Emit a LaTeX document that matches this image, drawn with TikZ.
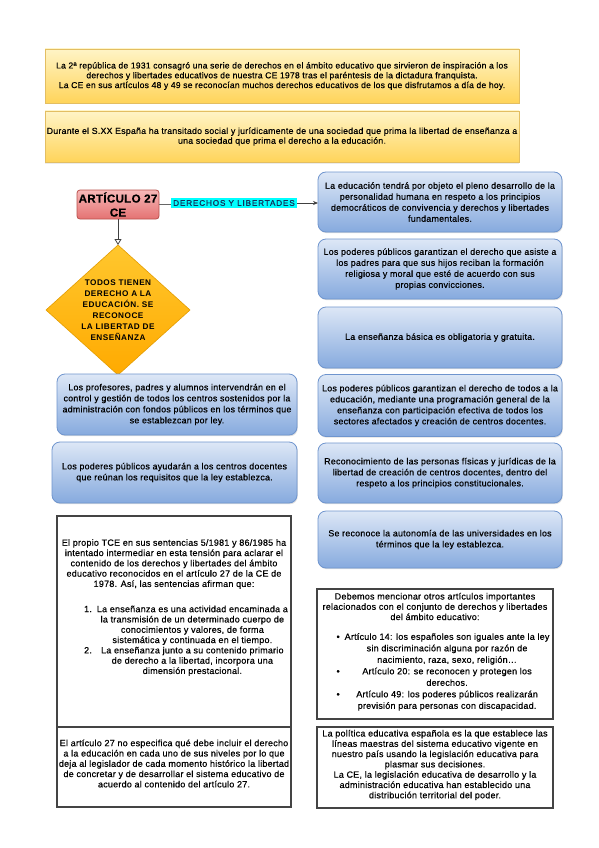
\documentclass[tikz,border=0pt]{standalone}
\usepackage{fontspec}
\setmainfont{Liberation Sans}[LetterSpace=2.5, RawFeature={embolden=0.5}]
\newfontfamily\spacedfont[LetterSpace=6.0]{Liberation Sans}
\newfontfamily\labfont[LetterSpace=10.0, RawFeature={embolden=0.6}]{Liberation Sans}
\usetikzlibrary{shapes.geometric,arrows.meta,shadows}
\definecolor{yeltop}{HTML}{FFF4C6}
\definecolor{yelbot}{HTML}{FFD45A}
\definecolor{yelline}{HTML}{E3BE62}
\definecolor{blutop}{HTML}{DDE7F6}
\definecolor{blubot}{HTML}{86AADE}
\definecolor{bluline}{HTML}{6F95CE}
\definecolor{pinktop}{HTML}{F7B8B8}
\definecolor{pinkbot}{HTML}{E47272}
\definecolor{pinkline}{HTML}{B9504C}
\definecolor{diatop}{HTML}{FFC72E}
\definecolor{diabot}{HTML}{FFAA00}
\definecolor{dialine}{HTML}{E39C00}
\definecolor{labcyan}{HTML}{00FFFF}
\definecolor{labtext}{HTML}{12305A}
\definecolor{txt}{HTML}{000000}
\definecolor{wline}{HTML}{444444}
\newcommand{\fyel}{\fontsize{8.6}{9.8}\selectfont}
\newcommand{\fblu}{\fontsize{8.9}{11}\selectfont}
\newcommand{\fwht}{\fontsize{9.0}{10.3}\selectfont}
\begin{document}
\begin{tikzpicture}[x=1pt,y=-1pt,
  every node/.style={inner sep=0pt, outer sep=0pt, text=txt},
  yelbox/.style={draw=yelline, line width=0.6pt, top color=yeltop, bottom color=yelbot,
    drop shadow={shadow xshift=0pt, shadow yshift=-1.5pt, opacity=0.15}, align=center, font=\fyel},
  blubox/.style={draw=bluline, line width=0.8pt, top color=blutop, bottom color=blubot,
    rounded corners=8pt, drop shadow={shadow xshift=0.8pt, shadow yshift=-1.2pt, opacity=0.25},
    align=center, font=\fblu},
  artbox/.style={draw=pinkline, line width=0.8pt, top color=pinktop, bottom color=pinkbot,
    rounded corners=3pt, align=center, font=\fontsize{11.6}{14}\selectfont\bfseries},
  labbox/.style={fill=labcyan, text=labtext, font=\labfont\fontsize{8.2}{9}\selectfont},
  diabox/.style={diamond, draw=dialine, line width=0.6pt, top color=diatop, bottom color=diabot},
  diatext/.style={align=center, font=\spacedfont\bfseries\fontsize{8.2}{11}\selectfont},
  whtbox/.style={draw=wline, line width=1.1pt, fill=white},
  whttext/.style={align=center, font=\fwht},
  conn/.style={draw=black!75, line width=0.8pt}
]
\useasboundingbox (0,0) rectangle (599,848);
\fill[white] (0,0) rectangle (599,848);

% yellow boxes
\node[yelbox, minimum width=474pt, minimum height=54pt] (y1) at (282,76)
 {La 2ª república de 1931 consagró una serie de derechos en el ámbito educativo que sirvieron de inspiración a los\\
  derechos y libertades educativos de nuestra CE 1978 tras el paréntesis de la dictadura franquista.\\
  La CE en sus artículos 48 y 49 se reconocían muchos derechos educativos de los que disfrutamos a día de hoy.};
\node[yelbox, minimum width=474pt, minimum height=51pt, font=\fontsize{8.8}{9.8}\selectfont] (y2) at (282,136.5)
 {Durante el S.XX España ha transitado social y jurídicamente de una sociedad que prima la libertad de enseñanza a\\
  una sociedad que prima el derecho a la educación.};

% article, label, diamond
\node[artbox, minimum width=82pt, minimum height=29pt] (art) at (118,204.5) {ARTÍCULO 27\\CE};
\node[labbox, minimum width=126pt, minimum height=10pt] (lab) at (234,203) {DERECHOS Y LIBERTADES};
\node[diabox, minimum width=144pt, minimum height=130pt] (dia) at (118,310) {};
\node[diatext] (diat) at (dia.center) {TODOS TIENEN\\DERECHO A LA\\EDUCACIÓN. SE\\RECONOCE\\LA LIBERTAD DE\\ENSEÑANZA};

% right blue column
\node[blubox, minimum width=244pt, minimum height=60pt] (b1) at (440,202)
 {La educación tendrá por objeto el pleno desarrollo de la\\ personalidad humana en respeto a los principios\\ democráticos de convivencia y derechos y libertades\\ fundamentales.};
\node[blubox, minimum width=244pt, minimum height=60pt] (b2) at (440,269)
 {Los poderes públicos garantizan el derecho que asiste a\\ los padres para que sus hijos reciban la formación\\ religiosa y moral que esté de acuerdo con sus\\ propias convicciones.};
\node[blubox, minimum width=244pt, minimum height=61pt] (b3) at (440,337.5)
 {La enseñanza básica es obligatoria y gratuita.};
\node[blubox, minimum width=244pt, minimum height=62pt] (b4) at (440,405.5)
 {Los poderes públicos garantizan el derecho de todos a la\\ educación, mediante una programación general de la\\ enseñanza con participación efectiva de todos los\\ sectores afectados y creación de centros docentes.};
\node[blubox, minimum width=244pt, minimum height=60pt] (b5) at (440,473)
 {Reconocimiento de las personas físicas y jurídicas de la\\ libertad de creación de centros docentes, dentro del\\ respeto a los principios constitucionales.};
\node[blubox, minimum width=244pt, minimum height=57pt] (b6) at (440,539.5)
 {Se reconoce la autonomía de las universidades en los\\ términos que la ley establezca.};

% left blue boxes
\node[blubox, minimum width=240pt, minimum height=61pt] (l1) at (177,404.5)
 {Los profesores, padres y alumnos intervendrán en el\\ control y gestión de todos los centros sostenidos por la\\ administración con fondos públicos en los términos que\\ se establezcan por ley.};
\node[blubox, minimum width=245pt, minimum height=61pt] (l2) at (174.5,472.5)
 {Los poderes públicos ayudarán a los centros docentes\\ que reúnan los requisitos que la ley establezca.};

% white boxes left
\node[whtbox, minimum width=234pt, minimum height=211pt] (tce) at (174,621.5) {};
\node[whtbox, minimum width=234pt, minimum height=80pt] (a27) at (174,767) {};
\node[whttext] (tcep) at (174,564)
 {El propio TCE en sus sentencias 5/1981 y 86/1985 ha\\ intentado intermediar en esta tensión para aclarar el\\ contenido de los derechos y libertades del ámbito\\ educativo reconocidos en el artículo 27 de la CE de\\ 1978. Así, las sentencias afirman que:};
\node[whttext] (tcel) at (186,641)
 {\begin{tabular}{@{}r@{\hspace{5pt}}c@{}}
  1. & La enseñanza es una actividad encaminada a\\
     & la transmisión de un determinado cuerpo de\\
     & conocimientos y valores, de forma\\
     & sistemática y continuada en el tiempo.\\
  2. & La enseñanza junto a su contenido primario\\
     & de derecho a la libertad, incorpora una\\
     & dimensión prestacional.
  \end{tabular}};
\node[whttext] (a27t) at (174,763.5)
 {El artículo 27 no especifica qué debe incluir el derecho\\ a la educación en cada uno de sus niveles por lo que\\ deja al legislador de cada momento histórico la libertad\\ de concretar y de desarrollar el sistema educativo de\\ acuerdo al contenido del artículo 27.};

% white boxes right
\node[whtbox, minimum width=236pt, minimum height=130pt] (deb) at (435,654) {};
\node[whtbox, minimum width=236pt, minimum height=81pt] (pol) at (435,767.5) {};
\node[whttext] (debh) at (435,606.5)
 {Debemos mencionar otros artículos importantes\\ relacionados con el conjunto de derechos y libertades\\ del ámbito educativo:};
\node[whttext, font=\fontsize{9.0}{11.5}\selectfont] (debl) at (443,672)
 {\begin{tabular}{@{}c@{\hspace{5pt}}c@{}}
  • & Artículo 14: los españoles son iguales ante la ley\\
    & sin discriminación alguna por razón de\\
    & nacimiento, raza, sexo, religión…\\
  • & Artículo 20: se reconocen y protegen los\\
    & derechos.\\
  • & Artículo 49: los poderes públicos realizarán\\
    & previsión para personas con discapacidad.
  \end{tabular}};
\node[whttext] (polt) at (435,765)
 {La política educativa española es la que establece las\\ líneas maestras del sistema educativo vigente en\\ nuestro país usando la legislación educativa para\\ plasmar sus decisiones.\\ La CE, la legislación educativa de desarrollo y la\\ administración educativa han establecido una\\ distribución territorial del poder.};

% connectors
\draw[conn, draw=black!60] (art.east) -- (art.east -| lab.west);
\draw[conn, -{Stealth[length=5pt,width=4pt]}] (lab.east) -- (lab.east -| b1.west);
\draw[conn, -{Triangle[open,length=6pt,width=7pt]}] (art.south) -- (dia.north);
\end{tikzpicture}
\end{document}
